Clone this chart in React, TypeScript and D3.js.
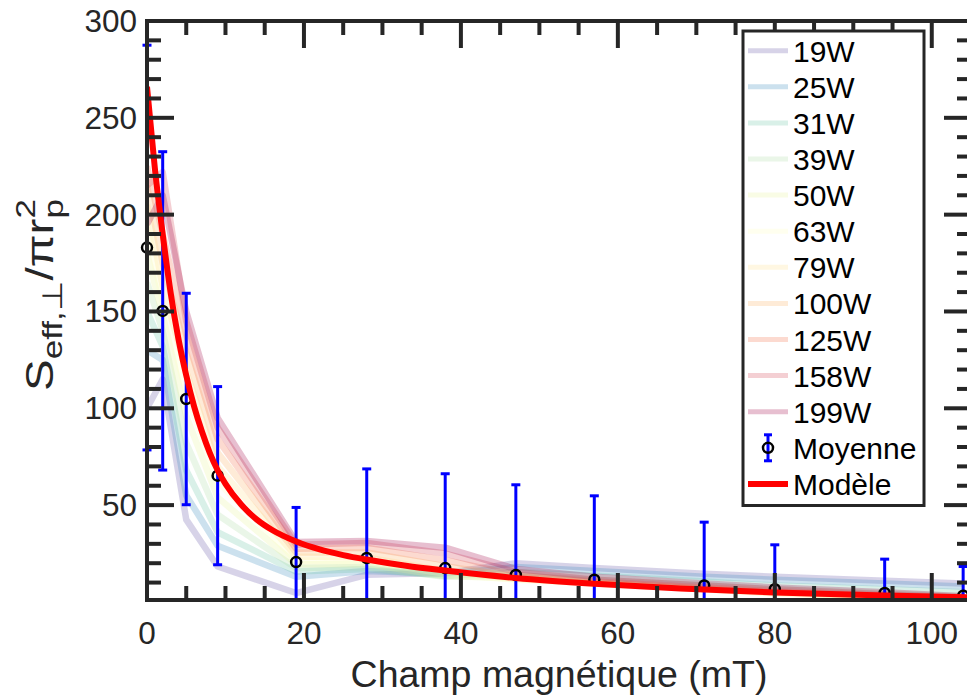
import React from 'react';
import * as d3 from 'd3';

// ---- data ----
const fieldValues = [0, 2, 5, 9, 19, 28, 38, 47, 57, 71, 80, 94, 104];
const powerLabels = ['19W', '25W', '31W', '39W', '50W', '63W', '79W', '100W', '125W', '158W', '199W'];
const s19W = [100, 115, 42.5, 18.3, 4.6, 14, 15, 20, 17.5, 14.5, 13, 11, 9.5];
const s25W = [130, 125, 55, 29, 13, 16, 14.5, 18, 16, 13, 11.5, 9.5, 8];
const s31W = [150, 132, 68, 36, 15.7, 17, 13.5, 15.5, 13.5, 10.5, 8.5, 6.5, 5];
const s39W = [165, 140, 82, 45, 17.5, 18, 13, 13.5, 11.5, 8.5, 6.5, 4.5, 3];
const s50W = [180, 148, 96, 54, 19.5, 19.5, 13.5, 12, 10, 7, 5, 3, 2];
const s63W = [195, 155, 108, 62, 21.5, 21, 14.5, 11.5, 9.5, 6.5, 4.5, 2.5, 1.5];
const s79W = [205, 163, 119, 70, 23.5, 23, 16, 12, 9.5, 6.5, 4.5, 2.5, 1.5];
const s100W = [215, 175, 129, 77, 25.5, 25.5, 18.5, 13, 10, 7, 5, 3, 1.5];
const s125W = [225, 190, 138, 84, 27.5, 28, 21.5, 14, 10.5, 7.5, 5.5, 3.5, 2];
const s158W = [215, 222, 145, 90, 29.5, 30.5, 25, 15.5, 11.5, 8.5, 6.5, 4, 2.5];
const s199W = [195, 210, 150, 95, 31, 31.5, 28, 17, 13, 9.5, 7.5, 5, 3];
const powerSeries = [s19W, s25W, s31W, s39W, s50W, s63W, s79W, s100W, s125W, s158W, s199W];
const seriesColors = ['#5e4fa2', '#3288bd', '#66c2a5', '#abdda4', '#e6f598', '#ffffbf', '#fee08b', '#fdae61', '#f46d43', '#d53e4f', '#9e0142'];

const meanValues = [183, 150.3, 104.8, 65.2, 20.6, 22.7, 17.5, 13.9, 11.5, 8.5, 6.6, 4.6, 3.2];
const errorValues = [104.5, 82.2, 54.6, 46, 28.2, 46, 48.7, 46.6, 43.3, 32.7, 22.9, 17.5, 15.1];

const modelField = [0, 1, 2, 3, 4, 5, 6, 7, 8, 9, 10, 12, 14, 16, 19, 22, 25, 28, 33, 38, 47, 57, 68, 80, 94, 105];
const modelValues = [266, 224, 190, 160, 136, 117, 101, 88, 77, 68, 61, 50.3, 42.5, 37, 31.2, 27.1, 24.2, 21.9, 18.7, 16.2, 12.4, 9.4, 6.9, 4.9, 3.3, 2.4];

const xTickValues = [0, 20, 40, 60, 80, 100];
const yTickValues = [50, 100, 150, 200, 250, 300];
const legendExtra = ['Moyenne', 'Modèle'];

const FONT = "'Liberation Sans', Arial, Helvetica, sans-serif";
const AX = '#262626';

export default function App() {
  const W = 967, H = 696;
  const left = 147, right = 971, top = 21, bottom = 600;
  const x = d3.scaleLinear().domain([0, 105]).range([left, right]);
  const y = d3.scaleLinear().domain([1, 300]).range([bottom, top]);

  const seriesLine = d3.line<[number, number]>().x(d => x(d[0])).y(d => y(d[1]));
  const modelLine = d3.line<[number, number]>().x(d => x(d[0])).y(d => y(d[1])).curve(d3.curveMonotoneX);

  const xMinor = d3.range(5, 105, 5).filter(v => v % 20 !== 0);
  const yMinor = d3.range(10, 300, 10).filter(v => v % 50 !== 0);
  const MAJ = 27, MIN = 14;

  const legX = 743, legY = 31, legW = 181, legH = 474.5;
  const rowY = (i: number) => 50.7 + i * 36.1;
  const allLegend = [...powerLabels, ...legendExtra];

  return (
    <svg width={W} height={H} style={{ position: 'absolute', left: 0, top: 0, background: '#fff' }} fontFamily={FONT}>
      <defs>
        <clipPath id="plotclip">
          <rect x={left} y={top} width={right - left} height={bottom - top} />
        </clipPath>
        <clipPath id="vclip">
          <rect x={0} y={top - 2} width={W} height={bottom - top + 2} />
        </clipPath>
      </defs>
      <rect x={0} y={0} width={W} height={H} fill="#fff" />
      <g clipPath="url(#plotclip)">
        {powerSeries.map((s, i) => (
          <path key={powerLabels[i]} d={seriesLine(fieldValues.map((f, j) => [f, s[j]] as [number, number])) || ''}
            fill="none" stroke={seriesColors[i]} strokeOpacity={0.25} strokeWidth={6.5}
            strokeLinejoin="round" strokeLinecap="butt" />
        ))}
      </g>
      <g clipPath="url(#vclip)">
        {fieldValues.map((f, j) => {
          const cx = x(f);
          const y1 = y(meanValues[j] + errorValues[j]);
          const y0 = y(meanValues[j] - errorValues[j]);
          return (
            <g key={'e' + j} stroke="#0000ff" strokeWidth={3}>
              <line x1={cx} x2={cx} y1={y1} y2={y0} />
              <line x1={cx - 4.5} x2={cx + 4.5} y1={y1} y2={y1} />
              <line x1={cx - 4.5} x2={cx + 4.5} y1={y0} y2={y0} />
            </g>
          );
        })}
      </g>
      {fieldValues.map((f, j) => (
        <circle key={'c' + j} cx={x(f)} cy={y(meanValues[j])} r={5} fill="none" stroke="#000" strokeWidth={2.5} />
      ))}
      <g clipPath="url(#plotclip)">
        <path d={modelLine(modelField.map((f, j) => [f, modelValues[j]] as [number, number])) || ''}
          fill="none" stroke="#ff0000" strokeWidth={6} strokeLinejoin="round" />
      </g>

      {/* axes box & ticks */}
      <g stroke={AX} strokeWidth={4}>
        <rect x={left} y={top} width={right - left} height={bottom - top} fill="none" />
        {xTickValues.map(v => (
          <g key={'xm' + v}>
            <line x1={x(v)} x2={x(v)} y1={bottom} y2={bottom - MAJ} />
            <line x1={x(v)} x2={x(v)} y1={top} y2={top + MAJ} />
          </g>
        ))}
        {xMinor.map(v => (
          <g key={'xn' + v}>
            <line x1={x(v)} x2={x(v)} y1={bottom} y2={bottom - MIN} />
            <line x1={x(v)} x2={x(v)} y1={top} y2={top + MIN} />
          </g>
        ))}
        {yTickValues.map(v => (
          <g key={'ym' + v}>
            <line x1={left} x2={left + MAJ} y1={y(v)} y2={y(v)} />
            <line x1={right} x2={right - MAJ} y1={y(v)} y2={y(v)} />
          </g>
        ))}
        {yMinor.map(v => (
          <g key={'yn' + v}>
            <line x1={left} x2={left + MIN} y1={y(v)} y2={y(v)} />
            <line x1={right} x2={right - MIN} y1={y(v)} y2={y(v)} />
          </g>
        ))}
      </g>

      {/* tick labels */}
      <g fill={AX} fontSize={31.5}>
        {xTickValues.map(v => (
          <text key={'xl' + v} x={x(v)} y={643.5} textAnchor="middle">{v}</text>
        ))}
        {yTickValues.map(v => (
          <text key={'yl' + v} x={137} y={y(v) + 11} textAnchor="end">{v}</text>
        ))}
      </g>

      {/* axis labels */}
      <text x={559} y={687} textAnchor="middle" fontSize={37.5} fill={AX}>Champ magnétique (mT)</text>
      <g transform="translate(53, 391) rotate(-90) scale(1.25, 1)">
        <text fontSize={38} fill={AX}>
          <tspan>S</tspan>
          <tspan fontSize={28} dy={9}>eff,⊥</tspan>
          <tspan dy={-9}>/πr</tspan>
          <tspan fontSize={28} dy={-18}>2</tspan>
          <tspan fontSize={28} dx={-15.5} dy={28}>p</tspan>
        </text>
      </g>

      {/* legend */}
      <rect x={legX} y={legY} width={legW} height={legH} fill="#fff" stroke={AX} strokeWidth={3} />
      {allLegend.map((lab, i) => {
        const cy = rowY(i);
        let sample: React.ReactNode = null;
        if (i < powerLabels.length) {
          sample = <line x1={748} x2={788} y1={cy} y2={cy} stroke={seriesColors[i]} strokeOpacity={0.25} strokeWidth={5} />;
        } else if (lab === 'Moyenne') {
          sample = (
            <g>
              <g stroke="#0000ff" strokeWidth={3}>
                <line x1={768} x2={768} y1={cy - 13} y2={cy + 13} />
                <line x1={764} x2={772} y1={cy - 13} y2={cy - 13} />
                <line x1={764} x2={772} y1={cy + 13} y2={cy + 13} />
              </g>
              <circle cx={768} cy={cy} r={5} fill="none" stroke="#000" strokeWidth={2.5} />
            </g>
          );
        } else {
          sample = <line x1={748} x2={788} y1={cy} y2={cy} stroke="#ff0000" strokeWidth={6} />;
        }
        return (
          <g key={lab}>
            {sample}
            <text x={793} y={cy + 11} fontSize={30} fill="#000">{lab}</text>
          </g>
        );
      })}
    </svg>
  );
}
